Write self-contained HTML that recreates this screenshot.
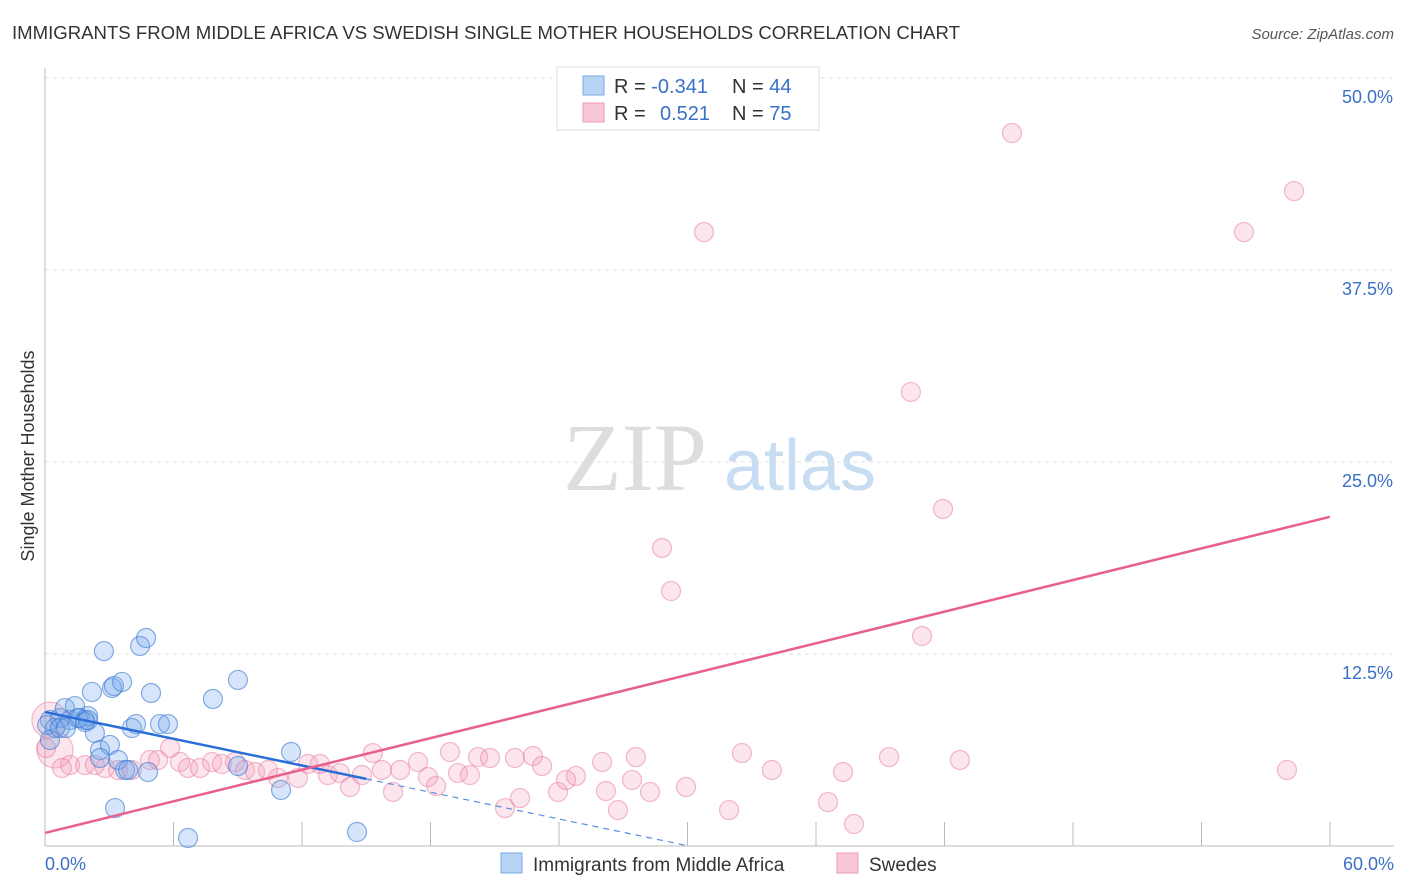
<!DOCTYPE html>
<html><head><meta charset="utf-8"><style>
body{margin:0;background:#fff;font-family:"Liberation Sans",sans-serif;}
svg{display:block}
</style></head><body>
<svg id="chart" width="1406" height="892" xmlns="http://www.w3.org/2000/svg">
<text x="12" y="39" font-size="18" fill="#333" textLength="948" lengthAdjust="spacingAndGlyphs">IMMIGRANTS FROM MIDDLE AFRICA VS SWEDISH SINGLE MOTHER HOUSEHOLDS CORRELATION CHART</text>
<text x="1394" y="39" font-size="15" fill="#555" font-style="italic" text-anchor="end">Source: ZipAtlas.com</text>
<text x="34" y="456" font-size="18" fill="#333" text-anchor="middle" transform="rotate(-90 34 456)">Single Mother Households</text>
<g>
<text x="635" y="490" font-size="96" fill="#ddd" font-family="Liberation Serif,serif" text-anchor="middle">ZIP</text>
<text x="800" y="490" font-size="72" fill="#c8dcf2" text-anchor="middle">atlas</text>
</g>
<g id="grid"></g>
<g id="axes"></g>
<g id="pts"></g>
<g id="lines"></g>
<g>
<rect x="557" y="67" width="262" height="63" fill="#fff" stroke="#ddd"/>
<rect x="583" y="76" width="21" height="19" fill="#b8d4f4" stroke="#7aaae6"/>
<rect x="583" y="103" width="21" height="19" fill="#f9c8d6" stroke="#eb9ab4"/>
<text x="614" y="93" font-size="20" fill="#333">R = <tspan fill="#3a70c8">-0.341</tspan></text>
<text x="732" y="93" font-size="20" fill="#333">N = <tspan fill="#3a70c8">44</tspan></text>
<text x="614" y="120" font-size="20" fill="#333">R = <tspan fill="#3a70c8" x="660">0.521</tspan></text>
<text x="732" y="120" font-size="20" fill="#333">N = <tspan fill="#3a70c8">75</tspan></text>
</g>
<g>
<rect x="501" y="853" width="21" height="20" fill="#b8d4f4" stroke="#7aaae6"/>
<text x="533" y="871" font-size="19" fill="#333">Immigrants from Middle Africa</text>
<rect x="837" y="853" width="21" height="20" fill="#f9c8d6" stroke="#eb9ab4"/>
<text x="869" y="871" font-size="19" fill="#333">Swedes</text>
</g>
</svg>
<script>
const yTicks=[12.5,25,37.5,50];
const yTickLabels=["12.5%","25.0%","37.5%","50.0%"];
const xTicks=[0,6,12,18,24,30,36,42,48,54,60];
const blueX=[0.23,0.47,0.70,0.93,1.17,1.40,1.63,1.87,2.01,2.19,2.33,2.57,2.75,3.03,3.13,3.22,3.41,3.60,3.74,3.88,4.06,4.25,4.44,4.72,4.81,4.95,5.37,5.74,6.68,7.84,9.01,9.01,11.02,11.49,14.57,3.27,0.1,0.23,0.70,0.98,1.54,1.87,2.57,2.01];
const blueY=[8.2,7.68,8.33,8.98,8.2,9.11,8.33,8.2,8.46,10.03,7.36,6.25,12.69,6.58,10.29,10.42,5.6,10.68,4.95,4.95,7.68,7.94,13.02,13.54,4.82,9.96,7.94,7.94,0.52,9.57,10.81,5.21,3.65,6.12,0.91,2.47,7.88,6.9,7.68,7.68,8.33,8.07,5.73,8.2];
const pinkX=[0.23,0.47,1.17,1.87,2.33,2.80,3.41,4.06,4.90,5.28,5.84,6.30,6.68,7.24,7.80,8.26,8.87,9.34,9.81,10.41,10.88,11.81,12.28,12.84,13.21,13.77,14.24,14.80,15.31,15.73,16.25,16.58,17.42,17.88,18.26,18.91,19.28,19.84,20.22,20.78,21.48,21.94,22.18,22.78,23.21,23.95,24.33,24.79,26.01,26.19,26.75,27.41,27.59,28.25,28.81,29.23,29.93,30.77,31.94,32.54,33.94,36.56,37.26,37.77,39.41,40.43,40.95,41.93,42.72,45.15,55.98,57.99,58.32,0.79,0.05];
const pinkY=[8.2,6.25,5.27,5.27,5.27,5.08,4.95,4.95,5.6,5.6,6.38,5.47,5.08,5.08,5.47,5.34,5.47,4.95,4.82,4.95,4.43,4.43,5.34,5.34,4.62,4.75,3.84,4.62,6.05,4.95,3.52,4.95,5.47,4.49,3.91,6.12,4.75,4.62,5.79,5.73,2.47,5.73,3.12,5.86,5.21,3.52,4.30,4.56,5.47,3.58,2.34,4.30,5.79,3.52,19.4,16.6,3.84,39.97,2.34,6.05,4.95,2.86,4.82,1.43,5.79,29.56,13.67,21.94,5.6,46.42,39.97,4.95,42.64,5.08,6.38];
const pinkR=[18,18];
const blueFit=[8.72,-0.29];
const pinkFit=[0.85,0.343];
const sx=v=>45+v*(1285/60);
const sy=v=>846-v*(768/50);
const NS="http://www.w3.org/2000/svg";
function mk(tag,attrs,parent){const e=document.createElementNS(NS,tag);for(const k in attrs)e.setAttribute(k,attrs[k]);document.getElementById(parent).appendChild(e);return e;}
yTicks.forEach((t,i)=>{
 const g=mk('line',{x1:45,x2:1394,y1:sy(t),y2:sy(t),stroke:'#e2e2e2','stroke-dasharray':'4,4'},'grid');
 
 
 const l=mk('text',{x:1393,y:sy(t)+25,'font-size':18,fill:'#3a70c8','text-anchor':'end'},'axes');
 l.textContent=yTickLabels[i];
 
 
});
const ax=mk('line',{x1:45,x2:45,y1:68,y2:846,stroke:'#bbb'},'axes');


const bx=mk('line',{x1:45,x2:1394,y1:846,y2:846,stroke:'#bbb'},'axes');


xTicks.forEach(t=>{
 const tk=mk('line',{x1:sx(t),x2:sx(t),y1:822,y2:846,stroke:'#bbb'},'axes');
 
 
});
const x0=mk('text',{x:45,y:870,'font-size':18,fill:'#3a70c8'},'axes');x0.textContent='0.0%';


const x1=mk('text',{x:1394,y:870,'font-size':18,fill:'#3a70c8','text-anchor':'end'},'axes');x1.textContent='60.0%';


pinkX.forEach((v,i)=>{
 const c=mk('circle',{cx:sx(v),cy:sy(pinkY[i]),r:(i<2?pinkR[i]:9.5),fill:'rgba(244,150,180,0.25)',stroke:'rgba(230,120,155,0.5)','stroke-width':1.2},'pts');
 
 
});
blueX.forEach((v,i)=>{
 const c=mk('circle',{cx:sx(v),cy:sy(blueY[i]),r:9.5,fill:'rgba(120,170,235,0.3)',stroke:'rgba(60,120,210,0.6)','stroke-width':1.2},'pts');
 
 
});
const bl=mk('line',{x1:sx(0),y1:sy(blueFit[0]),x2:sx(15),y2:sy(blueFit[0]+blueFit[1]*15),stroke:'#2a6ed8','stroke-width':2.5},'lines');


const bd=mk('line',{x1:sx(15),y1:sy(blueFit[0]+blueFit[1]*15),x2:sx(30),y2:sy(blueFit[0]+blueFit[1]*30),stroke:'#5a8ee0','stroke-width':1.2,'stroke-dasharray':'6,5'},'lines');


const pl=mk('line',{x1:sx(0),y1:sy(pinkFit[0]),x2:sx(60),y2:sy(pinkFit[0]+pinkFit[1]*60),stroke:'#e8608e','stroke-width':2.5},'lines');


</script>
</body></html>
